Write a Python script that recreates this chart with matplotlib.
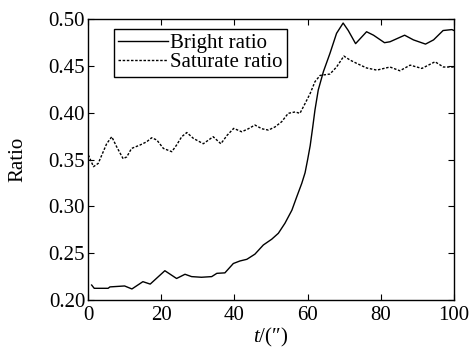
import numpy as np
import matplotlib.pyplot as plt
from matplotlib.ticker import FormatStrFormatter

plt.rcParams['font.family'] = ['Liberation Serif', 'DejaVu Serif']
plt.rcParams['mathtext.fontset'] = 'custom'
plt.rcParams['mathtext.rm'] = 'Liberation Serif'
plt.rcParams['mathtext.it'] = 'Liberation Serif:italic'

# 亮度比
t_bright = [1.0, 1.7, 5.5, 6.0, 10.0, 12.0, 15.0, 17.0, 21.0, 24.2, 26.5, 28.3, 31.0,
            33.8, 35.2, 37.4, 39.7, 41.5, 43.4, 45.6, 47.9, 50.2, 52.0, 53.8, 55.7,
            57.0, 58.4, 59.3, 60.0, 60.7, 61.4, 62.0, 62.9, 64.3, 66.1, 67.9, 69.7,
            71.1, 73.1, 76.1, 78.0, 81.0, 82.5, 86.5, 88.9, 92.2, 94.4, 97.0, 99.4, 100.0]
bright = [0.216, 0.2125, 0.2125, 0.214, 0.215, 0.2118, 0.2196, 0.217, 0.2313, 0.223,
          0.2275, 0.225, 0.2243, 0.225, 0.2285, 0.229, 0.239, 0.2417, 0.2435, 0.249,
          0.2588, 0.265, 0.2713, 0.282, 0.296, 0.310, 0.3247, 0.336, 0.350, 0.365,
          0.385, 0.403, 0.4244, 0.444, 0.4636, 0.485, 0.496, 0.488, 0.474, 0.4867,
          0.483, 0.475, 0.476, 0.483, 0.478, 0.4735, 0.478, 0.488, 0.489, 0.488]

# 饱和度比
t_sat = [0.1, 1.5, 2.8, 5.1, 6.5, 7.8, 9.6, 10.6, 11.9, 14.2, 16.0, 17.4, 18.8, 20.6,
         22.9, 24.2, 25.6, 27.0, 28.8, 31.5, 34.2, 36.3, 38.0, 39.8, 42.0, 43.8, 45.6,
         47.5, 49.3, 51.1, 52.9, 54.7, 56.6, 57.9, 59.3, 60.7, 62.0, 63.4, 66.1, 67.9,
         69.9, 71.6, 73.4, 76.1, 78.9, 82.5, 85.2, 88.0, 91.2, 94.8, 97.1, 99.4, 100.0]
saturate = [0.355, 0.3425, 0.346, 0.367, 0.3745, 0.364, 0.351, 0.353, 0.362, 0.3656,
            0.369, 0.3734, 0.371, 0.362, 0.3585, 0.3656, 0.3745, 0.379, 0.3727, 0.367,
            0.3745, 0.367, 0.376, 0.3834, 0.3798, 0.383, 0.387, 0.383, 0.3816, 0.385,
            0.3905, 0.3995, 0.401, 0.3995, 0.410, 0.4208, 0.4333, 0.440, 0.4415, 0.449,
            0.4607, 0.4564, 0.4529, 0.448, 0.4457, 0.449, 0.445, 0.451, 0.4475, 0.4546,
            0.449, 0.449, 0.449]

fig = plt.figure(figsize=(4.72, 3.49), dpi=100, facecolor='white')
ax = fig.add_axes([0.1864, 0.1404, 0.962 - 0.1864, 0.9447 - 0.1404])

ax.plot(t_bright, bright, color='black', lw=1.0, label='Bright ratio')
ax.plot(t_sat, saturate, color='black', lw=1.0, linestyle=(0, (1.8, 1.2)), label='Saturate ratio')

ax.set_xlim(0, 100)
ax.set_ylim(0.20, 0.50)
ax.set_xticks(np.arange(0, 101, 20))
ax.set_yticks(np.arange(0.20, 0.501, 0.05))
ax.yaxis.set_major_formatter(FormatStrFormatter('%.2f'))
ax.tick_params(direction='in', top=True, right=True, length=4, labelsize=15)
ax.tick_params(axis='x', pad=4)
ax.tick_params(axis='y', pad=2)
for s in ax.spines.values():
    s.set_linewidth(1.0)

ax.set_ylabel('Ratio', fontsize=15, labelpad=15)
ax.set_xlabel(r'$t$/(″)', fontsize=15, labelpad=1)

leg = ax.legend(loc='upper left', bbox_to_anchor=(0.07, 0.965), fontsize=15,
                frameon=True, fancybox=False, edgecolor='black', framealpha=1,
                handlelength=2.4, handletextpad=0.1, borderpad=0.2, labelspacing=0.0,
                borderaxespad=0)
leg.get_frame().set_linewidth(1.0)

plt.savefig('out.png', dpi=100)
